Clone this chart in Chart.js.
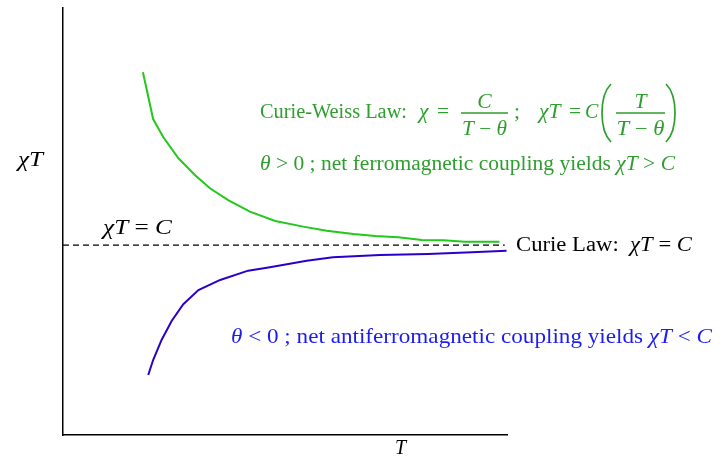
<!DOCTYPE html>
<html>
<head>
<meta charset="utf-8">
<script src="https://cdn.jsdelivr.net/npm/chart.js@4"></script>
<style>
  html, body { margin: 0; padding: 0; background: #fff; }
  #wrap { width: 725px; height: 457px; }
</style>
</head>
<body>
<div id="wrap"><canvas id="chart" width="725" height="457"></canvas></div>
<script>
// T (arbitrary units) and chiT / C
const ferroT   = [1.80, 2.03, 2.26, 2.60, 2.97, 3.31, 3.72, 4.21, 4.78, 5.41, 5.94, 6.54, 7.03, 7.55, 8.08, 8.57, 9.05, 9.83];
const ferroChi = [1.911, 1.665, 1.569, 1.458, 1.370, 1.300, 1.238, 1.177, 1.128, 1.098, 1.076, 1.059, 1.048, 1.042, 1.027, 1.026, 1.018, 1.018];
const antiT    = [1.92, 2.03, 2.22, 2.45, 2.71, 3.05, 3.54, 4.17, 4.66, 5.49, 6.08, 7.14, 8.22, 9.21, 9.99];
const antiChi  = [0.316, 0.395, 0.501, 0.602, 0.689, 0.764, 0.817, 0.866, 0.884, 0.918, 0.936, 0.948, 0.954, 0.963, 0.971];
const curieT   = [0, 9.95];
const curieChi = [1, 1];

const GREEN_LINE = '#22c81a';
const GREEN_TEXT = '#2e9e2e';
const BLUE_LINE  = '#2a00c8';
const BLUE_TEXT  = '#1c1cf0';
const SERIF = '"Liberation Serif", "Times New Roman", serif';
const SX = 1.08; // the original text is a bit wider than Liberation Serif

function runsWidth(ctx, runs, size) {
  let w = 0;
  runs.forEach(([txt, it]) => {
    ctx.font = (it ? 'italic ' : '') + size + 'px ' + SERIF;
    w += ctx.measureText(txt).width;
  });
  return w;
}

// draw [text, italic] runs at x, stretched horizontally by sx
function drawRuns(ctx, x, y, runs, size, color, sx = SX) {
  ctx.save();
  ctx.translate(x, y);
  ctx.scale(sx, 1);
  ctx.fillStyle = color;
  ctx.textBaseline = 'alphabetic';
  ctx.textAlign = 'left';
  let cx = 0;
  runs.forEach(([txt, it]) => {
    ctx.font = (it ? 'italic ' : '') + size + 'px ' + SERIF;
    ctx.fillText(txt, cx, 0);
    cx += ctx.measureText(txt).width;
  });
  ctx.restore();
  return x + cx * sx;
}

// stretch runs so they span exactly width w
function drawFit(ctx, x, y, runs, size, w, color) {
  return drawRuns(ctx, x, y, runs, size, color, w / runsWidth(ctx, runs, size));
}

function drawCentered(ctx, cx, y, runs, size, color, w) {
  const sx = w ? w / runsWidth(ctx, runs, size) : SX;
  drawRuns(ctx, cx - runsWidth(ctx, runs, size) * sx / 2, y, runs, size, color, sx);
}

function drawFraction(ctx, x0, x1, barY, num, den, size, color, denW) {
  ctx.strokeStyle = color;
  ctx.lineWidth = 1.3;
  ctx.beginPath();
  ctx.moveTo(x0, barY);
  ctx.lineTo(x1, barY);
  ctx.stroke();
  const cx = (x0 + x1) / 2;
  drawCentered(ctx, cx, barY - 5, num, size, color);
  drawCentered(ctx, cx, barY + 22, den, size, color, denW);
}

function drawParen(ctx, x, top, bottom, dir, color) {
  ctx.strokeStyle = color;
  ctx.lineWidth = 1.7;
  ctx.beginPath();
  ctx.moveTo(x, top);
  ctx.bezierCurveTo(x - dir * 12, top + 12, x - dir * 12, bottom - 12, x, bottom);
  ctx.stroke();
}

const textPlugin = {
  id: 'labels',
  afterDraw(chart) {
    const ctx = chart.ctx;
    const cLine = chart.scales.y.getPixelForValue(1);
    const minus = [' \u2212 ', false];

    // axis titles
    drawFit(ctx, 18, 166, [['\u03c7T', true]], 20, 25, '#000');
    drawRuns(ctx, 395, 454, [['T', true]], 20, '#000', 1);

    // chiT = C above the dashed line
    drawFit(ctx, 103, cLine - 11, [['\u03c7T', true], [' = ', false], ['C', true]], 20, 69, '#000');

    // Curie law
    drawFit(ctx, 516, cLine + 6, [['Curie Law:  ', false], ['\u03c7T', true], [' = ', false], ['C', true]], 20, 176, '#000');

    // Curie-Weiss law with fractions
    const fs = 20;
    drawFit(ctx, 260, 118, [['Curie-Weiss Law:', false]], fs, 147, GREEN_TEXT);
    drawRuns(ctx, 419, 118, [['\u03c7', true]], fs, GREEN_TEXT);
    drawRuns(ctx, 437, 118, [['=', false]], fs, GREEN_TEXT);
    drawFraction(ctx, 461, 508, 113, [['C', true]], [['T', true], minus, ['\u03b8', true]], fs, GREEN_TEXT, 45);
    drawRuns(ctx, 514, 118, [[';', false]], fs, GREEN_TEXT);
    drawRuns(ctx, 539, 118, [['\u03c7T', true]], fs, GREEN_TEXT);
    drawRuns(ctx, 569, 118, [['=', false]], fs, GREEN_TEXT);
    drawRuns(ctx, 585, 118, [['C', true]], fs, GREEN_TEXT, 1);
    drawParen(ctx, 611, 84, 142, 1, GREEN_TEXT);
    drawFraction(ctx, 616, 665, 113, [['T', true]], [['T', true], minus, ['\u03b8', true]], fs, GREEN_TEXT, 48);
    drawParen(ctx, 666, 84, 142, -1, GREEN_TEXT);

    drawFit(ctx, 260, 170, [['\u03b8', true], [' > 0 ; net ferromagnetic coupling yields ', false], ['\u03c7T', true], [' > ', false], ['C', true]], fs, 415, GREEN_TEXT);

    drawFit(ctx, 231, 343, [['\u03b8', true], [' < 0 ; net antiferromagnetic coupling yields ', false], ['\u03c7T', true], [' < ', false], ['C', true]], 21, 481, BLUE_TEXT);
  }
};

const axisOpts = (min, max) => ({
  type: 'linear',
  min: min,
  max: max,
  grid: { display: false, drawTicks: false },
  ticks: { display: false },
  border: { display: true, color: '#000', width: 1.5 }
});

new Chart(document.getElementById('chart'), {
  type: 'scatter',
  data: {
    datasets: [
      {
        data: ferroT.map((t, i) => ({ x: t, y: ferroChi[i] })),
        showLine: true,
        borderColor: GREEN_LINE,
        borderWidth: 2,
        pointRadius: 0,
        tension: 0
      },
      {
        data: antiT.map((t, i) => ({ x: t, y: antiChi[i] })),
        showLine: true,
        borderColor: BLUE_LINE,
        borderWidth: 2,
        pointRadius: 0,
        tension: 0
      },
      {
        data: curieT.map((t, i) => ({ x: t, y: curieChi[i] })),
        showLine: true,
        borderColor: '#000',
        borderWidth: 1.3,
        borderDash: [6, 4],
        pointRadius: 0
      }
    ]
  },
  options: {
    responsive: false,
    animation: false,
    devicePixelRatio: 1,
    layout: { padding: { left: 63, top: 8, right: 218, bottom: 22 } },
    plugins: { legend: { display: false }, tooltip: { enabled: false } },
    scales: {
      x: axisOpts(0, 10),
      y: axisOpts(0, 2.25)
    }
  },
  plugins: [textPlugin]
});
</script>
</body>
</html>
